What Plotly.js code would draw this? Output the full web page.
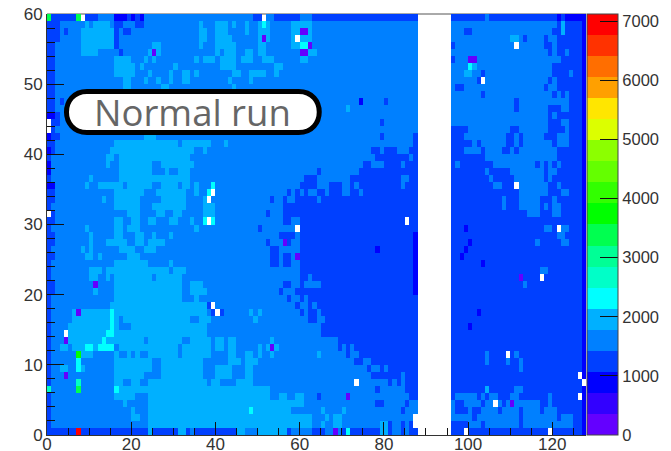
<!DOCTYPE html>
<html>
<head>
<meta charset="utf-8">
<script src="https://cdn.plot.ly/plotly-3.0.1.min.js"></script>
<style>html,body{margin:0;padding:0;background:#fff}#c{width:671px;height:451px}</style>
</head>
<body>
<div id="c"></div>
<script>
// Band colours of the palette, lowest band first (a..t)
var bandColors = ['#6400ff','#3200ff','#0000ff','#0040ff','#0080ff','#00b0ff','#00ffff','#00ffc8','#00ff96','#00ff50',
                  '#00ff00','#32ff00','#64ff00','#8cff00','#dcff00','#ffe600','#ffa000','#ff6e00','#ff3200','#ff0000'];
var zMax = 7120;
var nCols = 128, nRows = 60;
var bandNames = 'abcdefghijklmnopqrst';

// Each row, top (59) to bottom (0): "start column + band letter" runs, columns 0-87
var leftRows = [
'0d12e16c19d20c21d22c23e49d52e54d60e63d',
'0d3e9f10e11f15e16d18e21d23e36f37e40f43e44f45e47f48e50f53e58f63e',
'0d3e4d5e8f16d17e18d20e36f38e40f43e47f48e50f53e58f63e',
'0d3e8f16d17e36f38e40f44e50f53e58f63e',
'0d2e8f16d17e25f27e36f37e40f45e50f52e58f63e',
'0d2e8f12e17d18e24f27e40f41e42f45e47f49e50f52e60f64e',
'0d2e16f20e23f24e25f26e35f36e37f40e41f45e46f49e51f54e60f62e',
'0d2e16f21e22f23e30f31e41f45e54f56e',
'0d2e16f21e24f25e29f30e32f34e35f36e44f46e48f52e54f55e',
'0d2e18f20e23f24e26f27e29f30e32f34e43f44e48f49e',
'0d2e18f20e27f29e44f45e',
'0d2e',
'0d2e3d4e',
'0d2e',
'0c2d3e',
'0c1d3e',
'0c1d2e',
'0c1d3e23f26e87d',
'0d2e16f31e32f39e42f43e87d',
'0c1d2e15f35e37f38e77d79e80d83e86d',
'0d1e14f16e17f34e78d86e87d',
'0c1e14f15e17f25e27f35e75d77e80d84e85d',
'0c1e17f25e28f29e31f34e64d65e74d',
'0d1e10f11e17f34e61d64e72d84e86d',
'0c2e9f10e12f18e19f25e27f31e32f34e35f36e60d64e67d70e72d73e74d84e85d',
'0d2e16f23e26f33e35f36e57d58e59d60e61d62e64d66e67d70e72d74e75d',
'0d2e13f14e16f22e27f33e37f38e53d54e56d57e59d64e65d',
'0d1e16f22e25f33e37f40e56d',
'0d2e19f22e26f28e30f32e37f40e52d53e56d',
'0d2e16f18e20f22e24f26e29f31e34f35e37f40e56d58e60d',
'0d1e9f10e16f18e19f22e35f36e50d51e60d',
'0d2e10f11e16f18e21f23e25f26e29f30e55d59e60d87c',
'0d2e10f11e14f19e21f23e24f28e52d53e57d58e60d87c',
'0d1e8f9e10f11e17f21e23f26e53d55e60d87c',
'0d2e9f11e12f13e19f22e53d55e56d58e60d87c',
'0d1e16f24e29f30e53d55e56d58e60d87c',
'0d1e10f13e14f29e30f33e60d87c',
'0d1e10f12e14f15e16f25e26f32e60d62e63d87c',
'0d2e16f32e34f37e56d58e60d61e65d87c',
'0d2e11f12e16f32e34f38e55d56e59d87c',
'0d1e16f32e35f36e57d58e60d61e62d',
'0d1e15f38e59d60e62d63e64d',
'0d1e6f38e41d42e48f49e50f51e60d61e62d64e65d',
'0d1e6f17e18f34e36f39e49f50e62d64e66d',
'0d1e5f17e20f38e65d',
'0d1e5f38e65d',
'0d1e5f23e24f32e34f39e40f42e43f45e53f54e69d',
'0d1e3f5e6f16e17f31e32f39e40f42e43f45e50f51e52f53e54f55e69d70e71d72e73d',
'0d1e8f11e16f17e19f20e21f22e24f31e32f39e43f45e47f49e50f51e53f54e64f65e71d72e74d',
'0d1e16f25e27f37e43f46e47f50e73d75e77d',
'0d1e3f5e8f9e16f25e27f37e40f44e47f49e76d77e79d80e81d',
'0d1e16f23e27f37e40f44e47f49e77d84e85d',
'0d1e16f18e20f22e24f38e39f41e45f49e81d82e83d84e85d',
'0d1e17f53e78d79e85d',
'0d1e16f21e24f53e55f57e59f61e64d65e86d',
'0d1e18f19e24f61e78d80e85d86e',
'0d1e20f21e24f58e65f66e70f71e84d85e',
'0d1e20f22e24f63e66f67e68f70e',
'0d1e24f63e65f66e68f70e79f81d82e84d85e86d',
'0d24f25d31f33d34e35d45f47e50f57d58e63d66e70d79f81d82e84d85e86d'
];

// Same runs for columns 96-127
var rightRows = [
'96d104e105d121c122d123c',
'96e121d122f123d127c',
'96e99d101e120d122f123d127c',
'96e110f112e113d114e118d119e121d127c',
'96d97e118d120e121d127c',
'96e119d120e121d123e124d127c',
'96d97e122d127c',
'96e120d127c',
'96e103d104e120d124e125d127c',
'96e102d103e119d120e121d127c',
'96e97d99e118d119e121d127c',
'96e103d104e120d121e122d123e124d127c',
'96e111d112e124d127c',
'96e111d112e119d122e124d127c',
'96e119d120e121d127c',
'96e119d122e124d127c',
'96d100e110d112e119d123e124d127c',
'96d99e109d111e112d113e118d121e124d127c',
'96d101e102d103e109d111e112d113e120d121e124d127c',
'96d99e103d104e108d110e111d112e121d127c',
'96d104e121d127c',
'96d97e98d106e116d117e118d119e120d121e122d127c',
'96d104e105d110e118d119e121d127c',
'96d105e106d111e118d119e120d127c',
'96d106e108d112e119d121e122d127c',
'96d112e119d122e124d127c',
'96d108e109d112e117d120e121d127c',
'96d108e109d112e117d118e119d120e122d127c',
'96d114e117d120e122d127c',
'96d127c',
'96d99c100d118e120d122e124d127c',
'96d121e123d127c',
'96d100c101d116e117d122e124d127c',
'96d99c100d127c',
'96d98c99d127c',
'96d103c104d127c',
'96d127c','96d127c','96d127c','96d127c','96d127c','96d127c',
'96d102c103d127c',
'96d127c',
'96d100c101d127c',
'96d127c','96d127c','96d127c',
'96d104e105d111e112d127c',
'96d104e105d109e110d112e113d127c',
'96d112e113d127c',
'96d127c','96d127c',
'96d111e113d127c',
'96d97e102d103e104d105e107d110e112d119e120d127c',
'96e97d99e103d104e108d109e117d119e120d127c',
'96e97d100e101d103e107d108e112d113e117d118e121d127c',
'96e101d102e112d113e121d122e125d127c',
'96d100e103d104e112d113e125d127c',
'96d127c'
];

// Isolated cells as column:row:band ('.' = empty white cell)
var spotCells = ('7:59:j 8:59:. 0:59:j 25:54:a '
  + '39:35:g 39:34:. 38:34:g 38:33:. 37:33:f 37:30:g 38:30:. 39:30:g '
  + '0:44:. 0:43:. 0:31:. '
  + '11:21:a 7:17:a 4:14:. 4:13:a 7:11:k 7:10:g 7:9:g 4:8:a 7:7:h 7:6:j 0:6:h 16:6:g 7:0:t '
  + '9:12:g 10:12:g 12:12:g 13:12:g 14:12:g 15:12:g 13:13:g 14:14:g 15:14:g 15:15:g 15:16:g 15:17:g '
  + '39:18:. 38:18:d 40:17:. 39:17:d 24:0:f '
  + '51:59:. 51:58:g 51:56:a 60:57:a 61:57:a 59:56:. 60:55:g 61:55:g 62:55:a 60:54:a 61:54:a '
  + '74:47:c 80:47:d 71:46:f 79:44:d 79:42:d 85:30:. 59:29:. 56:27:a 59:25:a 78:26:c 53:12:a 73:7:. 71:5:a 48:3:g 68:0:a 71:0:g '
  + '111:55:. 100:53:a 101:53:a 100:52:g 101:52:f 99:51:f 100:51:f 103:50:. 111:35:. 121:29:. '
  + '112:22:a 117:22:. 117:23:e 118:23:e 113:21:e 109:11:. 109:10:e 126:8:. 127:7:. 126:5:. 106:4:. 110:4:a 99:0:. 119:0:. 104:6:f 87:1:. 87:2:.').split(' ');

function bandValue(letter) { return (bandNames.indexOf(letter) + 0.5) * zMax / 20; }
function fillRuns(row, text) {
  var re = /(\d+)([a-t])/g, m, runs = [];
  while ((m = re.exec(text))) runs.push([+m[1], m[2]]);
  runs.forEach(function (run, i) {
    var end = i + 1 < runs.length ? runs[i + 1][0] : (run[0] < 88 ? 88 : nCols);
    for (var c = run[0]; c < end; c++) row[c] = bandValue(run[1]);
  });
}
var z = [];
for (var r = 0; r < nRows; r++) {
  var row = new Array(nCols).fill(null);
  fillRuns(row, leftRows[nRows - 1 - r]);
  fillRuns(row, rightRows[nRows - 1 - r]);
  z.push(row);
}
spotCells.forEach(function (s) {
  var p = s.split(':');
  z[+p[1]][+p[0]] = p[2] === '.' ? null : bandValue(p[2]);
});

var colorscale = [];
bandColors.forEach(function (col, i) {
  colorscale.push([i / 20, col]);
  colorscale.push([(i + 1) / 20, col]);
});

var px = function (x) { return (x - 47) / 539.5; };
var py = function (y) { return (435 - y) / 421; };
var L = 66.5, R = 319.5, T = 91.5, B = 132.5, K = 20.5, Q = K * 4 / 3;
var boxPath = 'M' + px(L + K) + ',' + py(T) + ' L' + px(R - K) + ',' + py(T)
  + ' C' + px(R - K + Q) + ',' + py(T) + ' ' + px(R - K + Q) + ',' + py(B) + ' ' + px(R - K) + ',' + py(B)
  + ' L' + px(L + K) + ',' + py(B)
  + ' C' + px(L + K - Q) + ',' + py(B) + ' ' + px(L + K - Q) + ',' + py(T) + ' ' + px(L + K) + ',' + py(T) + ' Z';

var tickFont = {family: 'Liberation Sans, Arial, sans-serif', size: 17, color: '#333'};

Plotly.newPlot('c', [{
  type: 'heatmap', z: z, x0: 0.5, dx: 1, y0: 0.5, dy: 1,
  zmin: 0, zmax: zMax, colorscale: colorscale, hoverongaps: false,
  colorbar: {
    xref: 'paper', yref: 'paper', x: (588 - 47) / 539.5, xanchor: 'left',
    y: 0, yanchor: 'bottom', lenmode: 'fraction', len: 1,
    thicknessmode: 'pixels', thickness: 31, xpad: 0, ypad: 0,
    outlinecolor: '#444', outlinewidth: 1, borderwidth: 0,
    tick0: 0, dtick: 1000, ticks: 'inside', ticklen: 18, tickcolor: '#111', tickwidth: 1,
    tickfont: {family: tickFont.family, size: 16.5, color: '#333'}
  }
}], {
  width: 671, height: 451,
  margin: {l: 47, r: 84.5, t: 14, b: 16, autoexpand: false},
  paper_bgcolor: '#fff', plot_bgcolor: '#fff',
  xaxis: {
    range: [0, 128], showgrid: false, zeroline: false, showline: true, linecolor: '#333', linewidth: 1,
    tick0: 0, dtick: 20, ticks: 'inside', ticklen: 13, tickcolor: '#111', tickwidth: 1,
    minor: {tick0: 0, dtick: 5, ticks: 'inside', ticklen: 7, tickcolor: '#111', tickwidth: 1, showgrid: false},
    tickfont: tickFont, ticklabelstandoff: -6
  },
  yaxis: {
    range: [0, 60], showgrid: false, zeroline: false, showline: true, linecolor: '#333', linewidth: 1,
    tick0: 0, dtick: 10, ticks: 'inside', ticklen: 17, tickcolor: '#111', tickwidth: 1,
    minor: {tick0: 0, dtick: 2, ticks: 'inside', ticklen: 8, tickcolor: '#111', tickwidth: 1, showgrid: false},
    tickfont: tickFont, ticklabelstandoff: 0
  },
  shapes: [
    {type: 'line', layer: 'below', xref: 'paper', yref: 'paper', x0: 0, x1: 1, y0: 1, y1: 1, line: {color: '#555', width: 1}},
    {type: 'path', layer: 'above', xref: 'paper', yref: 'paper', path: boxPath, fillcolor: '#fff', line: {color: '#000', width: 5}}
  ],
  annotations: [{
    xref: 'paper', yref: 'paper', x: px(193), y: py(112), xanchor: 'center', yanchor: 'middle', showarrow: false,
    text: 'Normal run', font: {family: 'Open Sans, Noto Sans, sans-serif', size: 36.5, color: '#666'}
  }]
}, {displayModeBar: false, staticPlot: true});
</script>
</body>
</html>
